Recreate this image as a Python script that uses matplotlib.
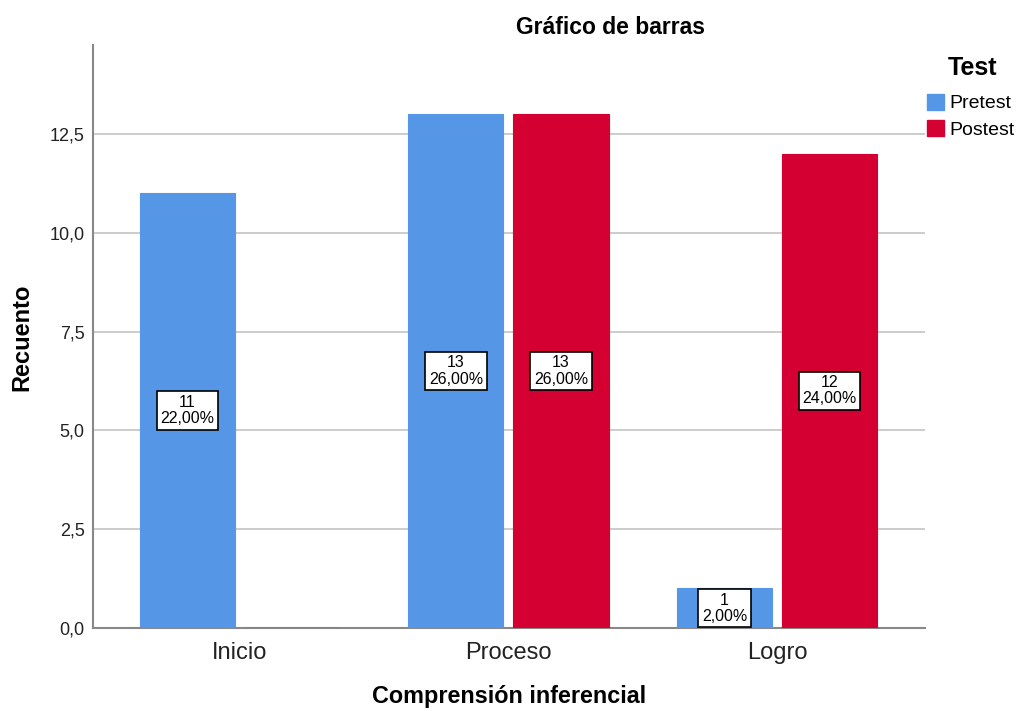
import numpy as np
import matplotlib
matplotlib.use("Agg")
import matplotlib.pyplot as plt
from matplotlib.patches import Patch

plt.rcParams["font.family"] = ["Liberation Sans", "DejaVu Sans"]

categories = ["Inicio", "Proceso", "Logro"]
series     = ["Pretest", "Postest"]
pretest    = [11, 13, 1]
postest    = [0, 13, 12]
total      = 50
yticks     = [0.0, 2.5, 5.0, 7.5, 10.0, 12.5]

colors = {"Pretest": "#5596E6", "Postest": "#D50032"}

fig = plt.figure(figsize=(10.19, 7.11), dpi=100)
ax  = fig.add_axes([93 / 1019, 1 - 628 / 711, 832 / 1019, 583 / 711])

x      = np.arange(len(categories))
width  = 0.354
offset = 0.1955

for values, name, sign in [(pretest, "Pretest", -1), (postest, "Postest", 1)]:
    pos = x + sign * offset
    ax.bar(pos, values, width=width, color=colors[name], edgecolor=colors[name], linewidth=0.8, zorder=3)
    for px, v in zip(pos, values):
        if v == 0:
            continue
        pct = f"{100 * v / total:.2f}".replace(".", ",")
        ax.text(px, v / 2, f"{v}\n{pct}%", ha="center", va="center", fontsize=11.5, linespacing=1.1,
                zorder=4, bbox=dict(boxstyle="square,pad=0.22", facecolor="white", edgecolor="black", linewidth=1.2))

ax.set_xlim(-0.547, 2.551)
ax.set_ylim(0, 14.75)
ax.set_xticks(x)
ax.set_xticklabels(categories, fontsize=17, color="#222222")
ax.set_yticks(yticks)
ax.set_yticklabels([f"{t:.1f}".replace(".", ",") for t in yticks], fontsize=13, color="#222222")
ax.tick_params(length=0, pad=6)
ax.tick_params(axis="x", pad=10)
ax.grid(axis="y", color="#c8c8c8", linewidth=1.3, zorder=0)
ax.set_axisbelow(True)

for side in ["top", "right"]:
    ax.spines[side].set_visible(False)
for side in ["left", "bottom"]:
    ax.spines[side].set_color("#888888")
    ax.spines[side].set_linewidth(1.5)

fig.text(611 / 1019, 1 - 27 / 711, "Gráfico de barras", ha="center", va="center", fontsize=16.5, fontweight="bold")
fig.text(509 / 1019, 1 - 697 / 711, "Comprensión inferencial", ha="center", va="center", fontsize=16.8, fontweight="bold")
fig.text(22 / 1019, 1 - 337 / 711, "Recuento", ha="center", va="center", rotation=90, fontsize=17, fontweight="bold")

# legend title drawn separately so the gap to the entries matches
fig.text(972 / 1019, 1 - 68 / 711, "Test", ha="center", va="center", fontsize=18, fontweight="bold")
handles = [Patch(facecolor=colors[s], edgecolor=colors[s]) for s in series]
leg = fig.legend(handles, series, loc="upper left", bbox_to_anchor=(927 / 1019, 1 - 94 / 711), frameon=False,
                 fontsize=14, handlelength=0.85, handleheight=0.85, handletextpad=0.3, labelspacing=0.4,
                 borderaxespad=0, borderpad=0)

fig.savefig("out.png", dpi=100)
